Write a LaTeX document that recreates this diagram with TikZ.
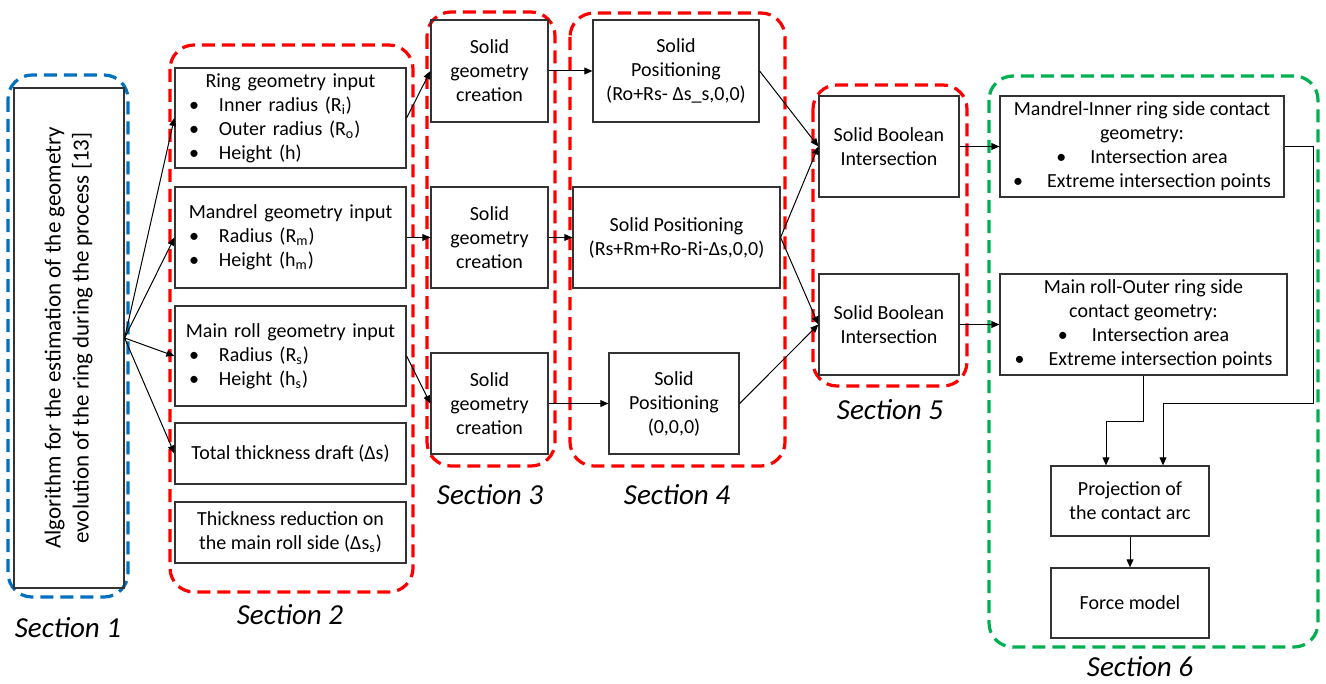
\documentclass[tikz,border=0pt]{standalone}
\usepackage{fontspec}
\setmainfont{Carlito}
\usetikzlibrary{arrows.meta}
\definecolor{secred}{RGB}{255,0,0}
\definecolor{secblue}{RGB}{0,112,192}
\definecolor{secgreen}{RGB}{0,176,80}

\begin{document}
\begin{tikzpicture}[x=0.5pt,y=-0.5pt,
		box/.style={draw=black!80,line width=0.6pt,inner sep=2pt,align=center,
			font=\fontsize{10}{12}\selectfont},
		inputbox/.style={box,align=left,inner xsep=7pt,text width=101.5pt,minimum height=50pt},
		sec/.style={line width=1.6pt,dash pattern=on 6.5pt off 3.5pt,rounded corners=12pt},
		seclabel/.style={font=\fontsize{14.5}{16}\selectfont\itshape},
		arr/.style={-{Triangle[length=4pt,width=3.4pt]},line width=0.5pt}
	]
	\path[fill=white] (0,0) rectangle (1326,684);
	\useasboundingbox (0,0) rectangle (1326,684);

	\draw[sec,secblue] (8,75) rectangle (128,597);
	\draw[sec,secred] (170,45) rectangle (413,592);
	\draw[sec,secred] (427,12) rectangle (555,466);
	\draw[sec,secred] (570,13) rectangle (785,466);
	\draw[sec,secred] (813,85) rectangle (967,386);
	\draw[sec,secgreen] (989,76) rectangle (1318,647);

	\node[seclabel] (s1) at (68,628) {Section 1};
	\node[seclabel] (s2) at (290,615) {Section 2};
	\node[seclabel] (s3) at (490,495) {Section 3};
	\node[seclabel] (s4) at (677,495) {Section 4};
	\node[seclabel] (s5) at (890,410) {Section 5};
	\node[seclabel] (s6) at (1140,667) {Section 6};

	\node[box,minimum width=55pt,minimum height=250pt] (algo) at (69,338)
		{\rotatebox{90}{\fontsize{11.5}{14}\selectfont\begin{tabular}{@{}c@{}}Algorithm for the estimation of the geometry\\
		evolution of the ring during the process [13]\end{tabular}}};

	\node[inputbox] (ring) at (290.5,118)
		{\makebox[\linewidth]{Ring geometry input}\\
		\textbullet\hspace{10pt}Inner radius (R\textsubscript{i})\\
		\textbullet\hspace{10pt}Outer radius (R\textsubscript{o})\\
		\textbullet\hspace{10pt}Height (h)};
	\node[inputbox,minimum height=50.5pt] (mand) at (290.5,237.5)
		{\makebox[\linewidth]{Mandrel geometry input}\\
		\textbullet\hspace{10pt}Radius (R\textsubscript{m})\\
		\textbullet\hspace{10pt}Height (h\textsubscript{m})};
	\node[inputbox] (mroll) at (290.5,356)
		{\makebox[\linewidth]{Main roll geometry input}\\
		\textbullet\hspace{10pt}Radius (R\textsubscript{s})\\
		\textbullet\hspace{10pt}Height (h\textsubscript{s})};
	\node[box,minimum width=115.5pt,minimum height=30.5pt] (draft) at (290.5,453.5)
		{Total thickness draft (Δs)};
	\node[box,minimum width=115.5pt,minimum height=30.5pt] (reduc) at (290.5,532.5)
		{Thickness reduction on\\the main roll side (Δs\textsubscript{s})};

	\node[box,minimum width=58.5pt,minimum height=51pt] (sg1) at (489.5,71) {Solid\\geometry\\creation};
	\node[box,minimum width=58.5pt,minimum height=50.5pt] (sg2) at (489.5,237.5) {Solid\\geometry\\creation};
	\node[box,minimum width=58.5pt,minimum height=50.5pt] (sg3) at (489.5,403.5) {Solid\\geometry\\creation};

	\node[box,minimum width=83pt,minimum height=51pt] (sp1) at (676,71) {Solid\\Positioning\\(Ro+Rs- Δs\_s,0,0)};
	\node[box,minimum width=103.5pt,minimum height=50.5pt] (sp2) at (676.5,237.5) {Solid Positioning\\(Rs+Rm+Ro-Ri-Δs,0,0)};
	\node[box,minimum width=65pt,minimum height=50.5pt] (sp3) at (674,403.5) {Solid\\Positioning\\(0,0,0)};

	\node[box,minimum width=70pt,minimum height=50.5pt] (sbi1) at (889,146.5) {Solid Boolean\\Intersection};
	\node[box,minimum width=70pt,minimum height=50.5pt] (sbi2) at (889,324.5) {Solid Boolean\\Intersection};

	\node[box,minimum width=142pt,minimum height=50.5pt] (mi) at (1142,146.5)
		{Mandrel-Inner ring side contact\\geometry:\\\textbullet\hspace{12pt}Intersection area\\
		\textbullet\hspace{12pt}Extreme intersection points};
	\node[box,minimum width=143.5pt,minimum height=50.5pt] (mo) at (1143.5,324.5)
		{Main roll-Outer ring side\\contact geometry:\\\textbullet\hspace{12pt}Intersection area\\
		\textbullet\hspace{12pt}Extreme intersection points};

	\node[box,minimum width=79pt,minimum height=35pt] (proj) at (1130,501) {Projection of\\the contact arc};
	\node[box,minimum width=79pt,minimum height=35pt] (force) at (1130,603) {Force model};

	\coordinate (mibend) at (1313,403);
	\coordinate (mobend) at (1106,421);

	\draw[arr] (algo.east) -- (ring.west);
	\draw[arr] (algo.east) -- (mand.west);
	\draw[arr] (algo.east) -- (mroll.west);
	\draw[arr] (algo.east) -- (draft.west);

	\draw[arr] (ring.east) -- (sg1.west);
	\draw[arr] (mand.east) -- (sg2.west);
	\draw[arr] (mroll.east) -- (sg3.west);

	\draw[arr] (sg1.east) -- (sp1.west);
	\draw[arr] (sg2.east) -- (sp2.west);
	\draw[arr] (sg3.east) -- (sp3.west);

	\draw[arr] (sp1.east) -- (sbi1.west);
	\draw[arr] (sp2.east) -- (sbi1.west);
	\draw[arr] (sp2.east) -- (sbi2.west);
	\draw[arr] (sp3.east) -- (sbi2.west);

	\draw[arr] (sbi1.east) -- (mi.west);
	\draw[arr] (sbi2.east) -- (mo.west);

	\draw[arr] (mi.east) -| (mibend) -| ([xshift=16.5pt]proj.north);
	\draw[arr] (mo.south) |- (mobend) -- ([xshift=-12pt]proj.north);
	\draw[arr] (proj.south) -- (force.north);
\end{tikzpicture}
\end{document}
